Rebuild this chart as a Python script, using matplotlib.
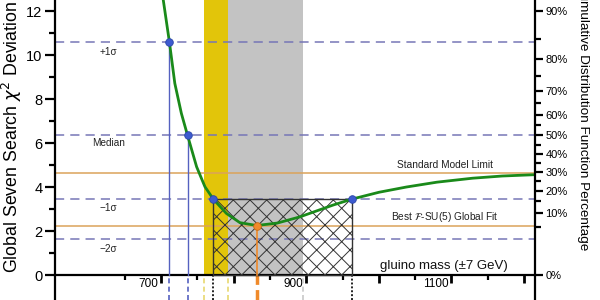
import matplotlib
matplotlib.use("Agg")
import matplotlib.pyplot as plt
from matplotlib.ticker import FixedLocator
from matplotlib.patches import Rectangle
import matplotlib.transforms as mtransforms

plt.rcParams['font.family'] = ['Liberation Sans', 'DejaVu Sans']
plt.rcParams['mathtext.fontset'] = 'dejavusans'
plt.rcParams['hatch.linewidth'] = 0.7

# ---- data ----
curve_mass = [700, 711.5, 719, 728, 736.5, 749, 760.5, 772, 790, 808.6, 831.6,
              860, 891, 937, 963, 1000, 1038, 1080, 1129, 1170, 1215]
curve_chi2 = [13.2, 10.6, 8.71, 7.35, 6.35, 4.92, 4.01, 3.45, 2.80, 2.38, 2.25,
              2.36, 2.64, 3.18, 3.45, 3.76, 4.00, 4.22, 4.40, 4.50, 4.56]

sigma_levels = [10.6, 6.35, 3.45, 1.65]
sigma_labels = ['+1σ', 'Median', '−1σ', '−2σ']

sm_limit = 4.65
best_fit = 2.25

blue_points_m = [711.5, 737, 772, 963]
blue_points_c = [10.6, 6.35, 3.45, 3.45]
best_point_m = 832
best_point_c = 2.25

yellow_band = (759.6, 791.8)
gray_band = (791.8, 895)
hatch_box = (772, 963, 3.45)

pct_major_vals = [0, 2.833, 3.822, 4.671, 5.493, 6.346, 7.283, 8.383, 9.803, 12.017]
pct_major_labels = ['0%', '10%', '20%', '30%', '40%', '50%', '60%', '70%', '80%', '90%']
pct_minor_vals = [2.167, 3.35, 4.255, 5.08, 5.91, 6.80, 7.81, 9.037, 10.75]

x_major = [700, 800, 900, 1000, 1100, 1200]
x_major_labels = ['700', '', '900', '', '1100', '']
x_minor = [650, 750, 850, 950, 1050, 1150]

XMIN, XMAX = 554, 1215
YMIN, YMAX = -1.136, 12.5

fig = plt.figure(figsize=(6, 3), dpi=100)
ax = fig.add_axes([55/600, 0, 480/600, 1])
ax.set_xlim(XMIN, XMAX)
ax.set_ylim(YMIN, YMAX)

# bands
ax.axvspan(*yellow_band, ymin=(0-YMIN)/(YMAX-YMIN), ymax=1, color='#e2c50a', lw=0, zorder=1)
ax.axvspan(*gray_band, ymin=(0-YMIN)/(YMAX-YMIN), ymax=1, color='#c3c3c3', lw=0, zorder=1)

# horizontal reference lines
for lev in sigma_levels:
    ax.axhline(lev, color='#7676b6', lw=1.1, ls=(0, (6, 4)), zorder=2)
ax.axhline(sm_limit, color='#dba35a', lw=1.1, zorder=2)
ax.axhline(best_fit, color='#dba35a', lw=1.1, zorder=2)

# hatched box
ax.add_patch(Rectangle((hatch_box[0], 0), hatch_box[1]-hatch_box[0], hatch_box[2],
                       facecolor='none', edgecolor='#333333', hatch='xx', lw=1.0, zorder=3))

# vertical lines from points
for m, c in zip(blue_points_m[:2], blue_points_c[:2]):
    ax.plot([m, m], [0, c], color='#5561c0', lw=1.0, zorder=3)
ax.plot([best_point_m, best_point_m], [0, best_point_c], color='#f08a2a', lw=1.2, zorder=3)

# dashed lines below axis
below = [YMIN, 0]
for m in blue_points_m[:2]:
    ax.plot([m, m], below, color='#5561c0', lw=1.2, ls=(0, (3, 2)), clip_on=True)
for m in yellow_band:
    ax.plot([m, m], below, color='#e8d870', lw=1.2, ls=(0, (3, 2)))
for m in hatch_box[:2]:
    ax.plot([m, m], below, color='#222222', lw=1.4, ls=(0, (1, 1)))
ax.plot([best_point_m, best_point_m], below, color='#f08a2a', lw=2.5, ls=(0, (3, 1.5)))
ax.plot([gray_band[1], gray_band[1]], below, color='#c8c8c8', lw=1.2, ls=(0, (3, 2)))

# curve
ax.plot(curve_mass, curve_chi2, color='#1a8a1a', lw=2.0, zorder=5, solid_capstyle='round')
ax.scatter(blue_points_m, blue_points_c, s=30, color='#3d5bd0', edgecolor='#2b45a8',
           lw=0.6, zorder=6)
ax.scatter([best_point_m], [best_point_c], s=30, color='#f08a2a', edgecolor='#c86a10',
           lw=0.6, zorder=6)

# text labels
lab_x = 628
lab_y = [10.15, 6.0, 3.05, 1.2]
for t, y in zip(sigma_labels, lab_y):
    ax.text(lab_x, y, t, fontsize=7.2, ha='center', va='center', color='#222222')
ax.text(1091, 5.0, 'Standard Model Limit', fontsize=7.3, ha='center', va='center', color='#222222')
ax.text(1091, 2.62, r'Best $\mathcal{F}$-SU(5) Global Fit', fontsize=7.3, ha='center',
        va='center', color='#222222')
ax.text(1090, 0.42, 'gluino mass (±7 GeV)', fontsize=9.5, ha='center', va='center',
        color='#111111')

# spines and ticks
ax.spines['top'].set_visible(False)
ax.spines['right'].set_visible(False)
ax.spines['bottom'].set_position(('data', 0))
for s in ['left', 'bottom']:
    ax.spines[s].set_linewidth(1.6)

ax.yaxis.set_major_locator(FixedLocator([0, 2, 4, 6, 8, 10, 12]))
ax.yaxis.set_minor_locator(FixedLocator([1, 3, 5, 7, 9, 11]))
ax.tick_params(axis='y', which='major', direction='out', length=7, width=1.6,
               labelsize=10.5, pad=2)
ax.tick_params(axis='y', which='minor', direction='out', length=4, width=1.6)

ax.xaxis.set_major_locator(FixedLocator(x_major))
ax.xaxis.set_minor_locator(FixedLocator(x_minor))
ax.set_xticklabels(x_major_labels)
ax.tick_params(axis='x', which='major', direction='out', length=6, width=2.0,
               labelsize=8.5, pad=-4)
ax.tick_params(axis='x', which='minor', direction='out', length=3.5, width=1.6)
offset = mtransforms.ScaledTranslation(-3/100, 0, fig.dpi_scale_trans)
for lbl in ax.get_xticklabels():
    lbl.set_horizontalalignment('right')
    lbl.set_transform(lbl.get_transform() + offset)

# right axis
ax2 = ax.twinx()
ax2.set_ylim(YMIN, YMAX)
for s in ['top', 'left', 'bottom']:
    ax2.spines[s].set_visible(False)
ax2.spines['right'].set_linewidth(1.6)
ax2.yaxis.set_major_locator(FixedLocator(pct_major_vals))
ax2.yaxis.set_minor_locator(FixedLocator(pct_minor_vals))
ax2.set_yticklabels(pct_major_labels)
ax2.tick_params(axis='y', which='major', direction='out', length=6, width=1.6,
                labelsize=8, pad=1.5)
ax2.tick_params(axis='y', which='minor', direction='out', length=4, width=1.6)

# axis titles (partly cropped like reference)
fig.text(12/600, 1 - 273/300, r'Global Seven Search $\chi^2$ Deviation', rotation=90,
         fontsize=12.8, ha='center', va='bottom')
fig.text(583/600, 1 - 250/300, 'Cumulative Distribution Function Percentage',
         rotation=270, fontsize=9.7, ha='center', va='bottom')

fig.savefig('out.png', dpi=100)
